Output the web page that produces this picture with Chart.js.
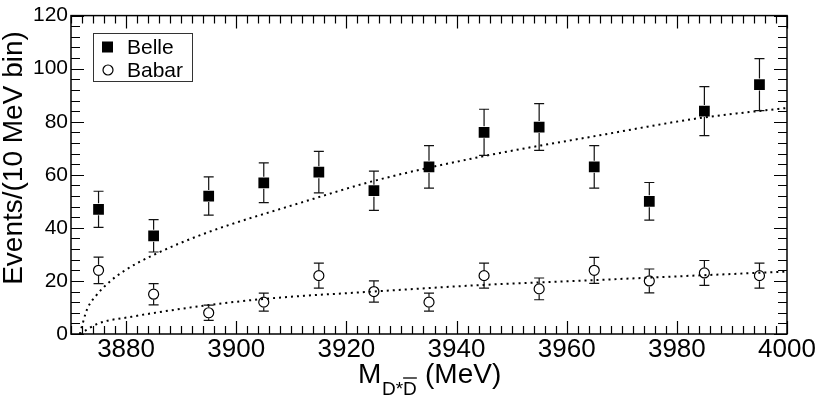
<!DOCTYPE html>
<html>
<head>
<meta charset="utf-8">
<script src="https://cdn.jsdelivr.net/npm/chart.js@4.4.0/dist/chart.umd.min.js"></script>
<style>
  body { margin: 0; background: #fff; }
  canvas { display: block; }
</style>
</head>
<body>
<canvas id="mycanvas" width="817" height="397"></canvas>
<script>
// bin centres (MeV)
var massBins = [3875, 3885, 3895, 3905, 3915, 3925, 3935, 3945, 3955, 3965, 3975, 3985, 3995];
var belleEvents = [47, 37, 52, 57, 61, 54, 63, 76, 78, 63, 50, 84, 94];
var belleErr    = [6.8, 6.1, 7.2, 7.5, 7.8, 7.4, 8.0, 8.7, 8.8, 8.0, 7.1, 9.2, 9.8];
var babarEvents = [24, 15, 8, 12, 22, 16, 12, 22, 17, 24, 20, 23, 22];
var babarErr    = [5.0, 4.0, 2.9, 3.4, 4.7, 4.0, 3.4, 4.7, 4.1, 4.9, 4.5, 4.7, 4.7];

// dotted fit curves
var belleFitX = [3871.6, 3872.9, 3874.7, 3876.8, 3879.8, 3884.9, 3894.3, 3911.6, 3925, 3944.9, 3966, 3984.2, 4000];
var belleFitY = [0, 9.2, 14.8, 19.3, 24.0, 29.7, 37.9, 49.4, 57.7, 67.0, 74.9, 81.4, 85.2];
var babarFitX = [3871.6, 3875, 3881, 3887.1, 3894.3, 3904.9, 3924.9, 3944.9, 3966, 3984.2, 4000];
var babarFitY = [0, 4.0, 6.5, 8.6, 10.7, 13.2, 16.0, 18.5, 20.4, 22.1, 23.5];

var xTickLabels = [3880, 3900, 3920, 3940, 3960, 3980, 4000];
var xMin = 3870, xMax = 4000, yMin = 0, yMax = 120;

var FONT = "'Liberation Sans', Arial, Helvetica, sans-serif";

function pts(xs, ys) {
  var out = [];
  for (var i = 0; i < xs.length; i++) out.push({x: xs[i], y: ys[i]});
  return out;
}

var errBars = {
  id: 'errBars',
  afterDatasetsDraw: function(chart) {
    var ctx = chart.ctx;
    var xs = chart.scales.x, ys = chart.scales.y;
    var sets = [[belleEvents, belleErr, 6], [babarEvents, babarErr, 5.5]];
    ctx.save();
    ctx.strokeStyle = '#111';
    ctx.lineWidth = 1.2;
    sets.forEach(function(s) {
      for (var i = 0; i < massBins.length; i++) {
        var px = xs.getPixelForValue(massBins[i]);
        var py = ys.getPixelForValue(s[0][i]);
        var top = ys.getPixelForValue(s[0][i] + s[1][i]);
        var bot = ys.getPixelForValue(s[0][i] - s[1][i]);
        ctx.beginPath();
        ctx.moveTo(px, top); ctx.lineTo(px, py - s[2]);
        ctx.moveTo(px, py + s[2]); ctx.lineTo(px, bot);
        ctx.moveTo(px - 5, top); ctx.lineTo(px + 5, top);
        ctx.moveTo(px - 5, bot); ctx.lineTo(px + 5, bot);
        ctx.stroke();
      }
    });
    ctx.restore();
  }
};

var frame = {
  id: 'frame',
  afterDraw: function(chart) {
    var ctx = chart.ctx, a = chart.chartArea;
    var xs = chart.scales.x, ys = chart.scales.y;
    ctx.save();
    ctx.strokeStyle = '#000';
    ctx.lineWidth = 1.5;
    ctx.strokeRect(a.left, a.top, a.right - a.left, a.bottom - a.top);
    ctx.lineWidth = 1.2;
    ctx.beginPath();
    // x ticks every 2 MeV, big ones every 20
    for (var v = xMin; v <= xMax; v += 2) {
      var px = Math.round(xs.getPixelForValue(v)) + 0.5;
      var len = ((v - 3880) % 20 === 0) ? 13 : 8;
      ctx.moveTo(px, a.bottom); ctx.lineTo(px, a.bottom - len);
      ctx.moveTo(px, a.top); ctx.lineTo(px, a.top + len);
    }
    // y ticks every 4, big ones every 20
    for (var w = yMin; w <= yMax; w += 4) {
      var py = Math.round(ys.getPixelForValue(w)) + 0.5;
      var ln = (w % 20 === 0) ? 13 : 9;
      ctx.moveTo(a.left, py); ctx.lineTo(a.left + ln, py);
      ctx.moveTo(a.right, py); ctx.lineTo(a.right - ln, py);
    }
    ctx.stroke();

    // axis titles
    ctx.fillStyle = '#000';
    ctx.font = '28px ' + FONT;
    ctx.textAlign = 'left';
    ctx.textBaseline = 'alphabetic';
    ctx.fillText('M', 358, 383);
    ctx.font = '19px ' + FONT;
    ctx.fillText('D*D', 382, 395);
    var wDs = ctx.measureText('D*').width, wD = ctx.measureText('D').width;
    ctx.lineWidth = 1.3;
    ctx.beginPath();
    ctx.moveTo(382 + wDs, 378); ctx.lineTo(382 + wDs + wD, 378);
    ctx.stroke();
    ctx.font = '28px ' + FONT;
    ctx.fillText('(MeV)', 425, 383);

    ctx.save();
    ctx.translate(22, 158);
    ctx.rotate(-Math.PI / 2);
    ctx.textAlign = 'center';
    ctx.fillText('Events/(10 MeV bin)', 0, 0);
    ctx.restore();

    // legend
    ctx.lineWidth = 1;
    ctx.strokeStyle = '#333';
    ctx.strokeRect(93.5, 33.5, 99, 48);
    ctx.fillStyle = '#000';
    ctx.fillRect(102, 41.5, 11, 11);
    ctx.strokeStyle = '#000';
    ctx.lineWidth = 1.2;
    ctx.beginPath();
    ctx.arc(108, 70, 5, 0, Math.PI * 2);
    ctx.stroke();
    ctx.font = '21px ' + FONT;
    ctx.fillText('Belle', 127, 54);
    ctx.fillText('Babar', 127, 77);
    ctx.restore();
  }
};

var chartdata = {
  datasets: [
    {
      label: 'Belle',
      type: 'scatter',
      data: pts(massBins, belleEvents),
      pointStyle: 'rect',
      pointRadius: 7.6,
      backgroundColor: '#000',
      borderColor: '#000',
      borderWidth: 0,
      order: 1
    },
    {
      label: 'Babar',
      type: 'scatter',
      data: pts(massBins, babarEvents),
      pointStyle: 'circle',
      pointRadius: 5,
      backgroundColor: 'rgba(0,0,0,0)',
      borderColor: '#000',
      borderWidth: 1.2,
      order: 2
    },
    {
      label: 'Belle fit',
      type: 'line',
      data: pts(belleFitX, belleFitY),
      borderColor: '#000',
      borderWidth: 2,
      borderDash: [2, 4],
      pointRadius: 0,
      fill: false,
      cubicInterpolationMode: 'monotone',
      order: 3
    },
    {
      label: 'Babar fit',
      type: 'line',
      data: pts(babarFitX, babarFitY),
      borderColor: '#000',
      borderWidth: 2,
      borderDash: [2, 4],
      pointRadius: 0,
      fill: false,
      cubicInterpolationMode: 'monotone',
      order: 4
    }
  ]
};

var ctx = document.getElementById('mycanvas');
var myChart = new Chart(ctx, {
  type: 'scatter',
  data: chartdata,
  options: {
    responsive: false,
    animation: false,
    devicePixelRatio: 1,
    layout: { padding: { top: 10, right: 30, left: 0, bottom: 0 } },
    plugins: { legend: { display: false }, tooltip: { enabled: false } },
    scales: {
      x: {
        type: 'linear',
        min: xMin,
        max: xMax,
        grid: { display: false, drawTicks: false },
        border: { display: false },
        afterBuildTicks: function(scale) {
          scale.ticks = xTickLabels.map(function(v) { return {value: v}; });
        },
        afterFit: function(scale) { scale.height = 63; },
        ticks: {
          color: '#000',
          padding: 0,
          maxRotation: 0,
          font: { family: FONT, size: 26 },
          callback: function(v) { return String(v); }
        }
      },
      y: {
        min: yMin,
        max: yMax,
        grid: { display: false, drawTicks: false },
        border: { display: false },
        afterFit: function(scale) { scale.width = 71; },
        ticks: {
          color: '#000',
          stepSize: 20,
          padding: 3,
          font: { family: FONT, size: 21 }
        }
      }
    }
  },
  plugins: [errBars, frame]
});
</script>
</body>
</html>
